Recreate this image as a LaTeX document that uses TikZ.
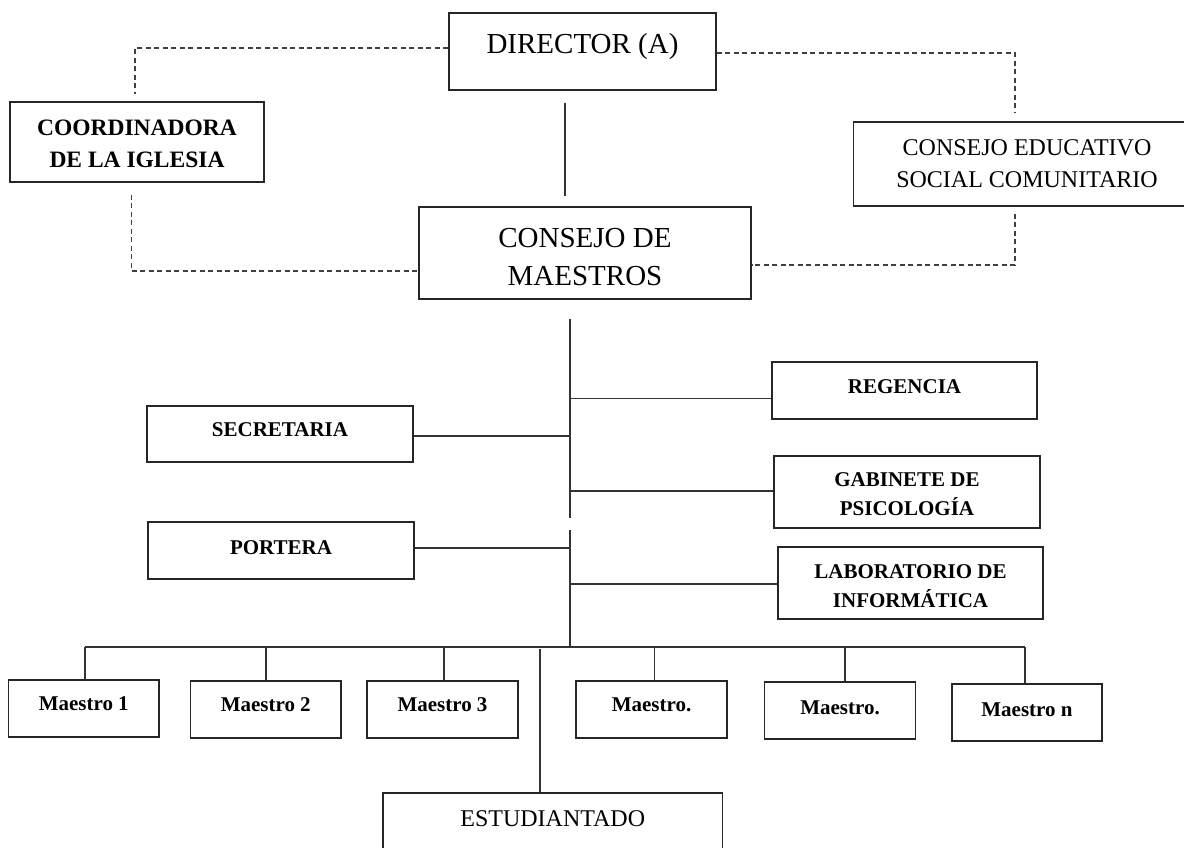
\documentclass[tikz,border=0pt]{standalone}
\usepackage{fontspec}
\setmainfont{Liberation Serif}
\usetikzlibrary{calc}

\tikzset{
  box/.style={draw=black!85, line width=1.3pt, inner sep=0pt, fill=none},
  link/.style={draw=black!80, line width=1.2pt},
  dashlink/.style={draw=black!75, line width=1.1pt, dash pattern=on 5pt off 3.5pt},
  txt/.style={inner sep=0pt, anchor=base, text=black},
  big/.style={txt, font=\fontsize{29}{35}\selectfont},
  mid/.style={txt, font=\fontsize{24}{30}\selectfont},
  bmid/.style={txt, font=\bfseries\fontsize{23.5}{30}\selectfont},
  bsmall/.style={txt, font=\bfseries\fontsize{21}{27}\selectfont},
}

\begin{document}
\begin{tikzpicture}[x=1pt, y=-1pt]
\useasboundingbox (0,0) rectangle (1184,847);
\clip (0,0) rectangle (1184,847);

% ---------- boxes ----------
\node[box, minimum width=267pt, minimum height=77pt] (dir)  at (582.5,51.5) {};
\node[box, minimum width=254pt, minimum height=80pt] (coord) at (137,142) {};
\node[box, minimum width=332pt, minimum height=92pt] (cm)   at (585,253) {};
\node[box, minimum width=347pt, minimum height=84pt] (ces)  at (1027,164) {};

\node[box, minimum width=266pt, minimum height=56pt] (sec)  at (280,434) {};
\node[box, minimum width=266pt, minimum height=57pt] (port) at (281,550.5) {};
\node[box, minimum width=265pt, minimum height=57pt] (reg)  at (904.5,390.5) {};
\node[box, minimum width=266pt, minimum height=72pt] (gab)  at (907,492) {};
\node[box, minimum width=265pt, minimum height=72pt] (lab)  at (910.5,583) {};

\node[box, minimum width=150.5pt, minimum height=57pt] (m1) at (83.75,708.5) {};
\node[box, minimum width=150.5pt, minimum height=57pt] (m2) at (265.75,709.5) {};
\node[box, minimum width=151pt,   minimum height=57pt] (m3) at (442.5,709.5) {};
\node[box, minimum width=151pt,   minimum height=57pt] (m4) at (651.5,709.5) {};
\node[box, minimum width=150.5pt, minimum height=57pt] (m5) at (840,710.5) {};
\node[box, minimum width=150pt,   minimum height=57pt] (mn) at (1027,712.5) {};

\node[box, minimum width=339.5pt, minimum height=76pt] (est) at (552.75,831) {};

% ---------- labels ----------
\node[big] (tdir) at (582.5,53) {DIRECTOR (A)};
\node[bmid] (tcoord1) at (137,135) {COORDINADORA};
\node[bmid] (tcoord2) at (137,167) {DE LA IGLESIA};
\node[big] (tcm1) at (585,247) {CONSEJO DE};
\node[big] (tcm2) at (585,285) {MAESTROS};
\node[mid] (tces1) at (1027,155) {CONSEJO EDUCATIVO};
\node[mid] (tces2) at (1027,187) {SOCIAL COMUNITARIO};

\node[bsmall] (tsec)  at (280,436.5) {SECRETARIA};
\node[bsmall] (tport) at (281,554) {PORTERA};
\node[bsmall] (treg)  at (904.5,393) {REGENCIA};
\node[bsmall] (tgab1) at (907,486.5) {GABINETE DE};
\node[bsmall] (tgab2) at (907,515.5) {PSICOLOGÍA};
\node[bsmall] (tlab1) at (910.5,578) {LABORATORIO DE};
\node[bsmall] (tlab2) at (910.5,607) {INFORMÁTICA};

\node[bsmall] (tm1) at (83.75,710) {Maestro 1};
\node[bsmall] (tm2) at (265.75,711) {Maestro 2};
\node[bsmall] (tm3) at (442.5,711) {Maestro 3};
\node[bsmall] (tm4) at (651.5,711) {Maestro.};
\node[bsmall] (tm5) at (840,714) {Maestro.};
\node[bsmall] (tmn) at (1027,716) {Maestro n};
\node[mid] (test) at (552.75,826.5) {ESTUDIANTADO};

% ---------- upper connectors ----------
\draw[link] ($(dir.south)+(-17.5,12)$) -- ($(cm.north)+(-20,-10)$);

\draw[dashlink] ([yshift=3.5pt]dir.west) -| ($(coord.north)+(-2,-7)$);
\draw[dashlink] ($(coord.south)+(-5.5,12)$) |- ([yshift=-18pt]cm.west);
\draw[dashlink] ([yshift=-1.5pt]dir.east) -| ($(ces.north)+(-12,-9)$);
\draw[dashlink] ($(ces.south)+(-12,7)$) |- ([yshift=-12pt]cm.east);

% ---------- central trunk ----------
\coordinate (t1) at ($(cm.south)+(-15,19)$);
\coordinate (t2) at (570,518);
\coordinate (t3) at (570,530);
\coordinate (t4) at (570,647);
\draw[link] (t1) -- (t2);
\draw[link] (t3) -- (t4);

\coordinate (aReg) at ([yshift=-8pt]reg.west);
\coordinate (aSec) at ([yshift=-2pt]sec.east);
\coordinate (aGab) at ([yshift=1pt]gab.west);
\coordinate (aPort) at ([yshift=2.5pt]port.east);
\coordinate (aLab) at ([yshift=-1pt]lab.west);
\draw[link] (aReg) -- (aReg -| t1);
\draw[link] (aSec) -- (aSec -| t1);
\draw[link] (aGab) -- (aGab -| t1);
\draw[link] (aPort) -- (aPort -| t3);
\draw[link] (aLab) -- (aLab -| t3);

% ---------- teachers ----------
\coordinate (d1) at ([xshift=1.25pt]m1.north);
\coordinate (d2) at ([xshift=0.25pt]m2.north);
\coordinate (d3) at ([xshift=1.5pt]m3.north);
\coordinate (d4) at ([xshift=3pt]m4.north);
\coordinate (d5) at ([xshift=5pt]m5.north);
\coordinate (dn) at ([xshift=-2pt]mn.north);
\coordinate (de) at ([xshift=-12.75pt]est.north);

\draw[link] (d1 |- t4) -- (dn |- t4);
\foreach \d in {d1,d2,d3,d4,d5,dn}
  \draw[link] (\d) -- (\d |- t4);
\draw[link] (de) -- ($(de |- t4)+(0,2)$);
\end{tikzpicture}
\end{document}
